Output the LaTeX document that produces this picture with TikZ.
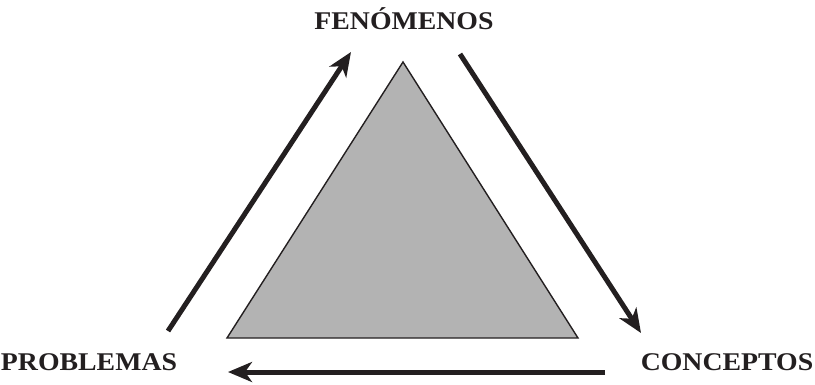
\documentclass[tikz,border=0pt]{standalone}
\usepackage{fontspec}
\setmainfont{Liberation Serif}[FakeStretch=1.09]
\usetikzlibrary{arrows.meta}
\definecolor{ink}{HTML}{231F20}
\definecolor{tri}{HTML}{B3B3B3}
\tikzset{
  lbl/.style={font=\fontsize{25.5}{29}\selectfont\bfseries, text=ink, inner sep=0pt},
  bigarrow/.style={draw=ink, line width=5pt, -{Stealth[length=24pt, width=20pt, inset=7pt]}},
}
\begin{document}
\begin{tikzpicture}[x=1pt,y=-1pt]
\useasboundingbox (0,0) rectangle (815,384);
\filldraw[fill=tri, draw=ink, line width=1.4pt, line join=miter]
  (403,62) coordinate (apex) -- (578,338) coordinate (br) -- (227,338) coordinate (bl) -- cycle;
\node[lbl] (fen) at (404,19) {FENÓMENOS};
\node[lbl] (pro) at (89,362) {PROBLEMAS};
\node[lbl] (con) at (727,362) {CONCEPTOS};
\coordinate (a1s) at (168,331);
\coordinate (a1e) at (351,52);
\coordinate (a2s) at (460,54);
\coordinate (a2e) at (641,333);
\coordinate (a3s) at (605,372);
\coordinate (a3e) at (228,372);
\draw[bigarrow] (a1s) -- (a1e);
\draw[bigarrow] (a2s) -- (a2e);
\draw[bigarrow] (a3s) -- (a3e);
\end{tikzpicture}
\end{document}
